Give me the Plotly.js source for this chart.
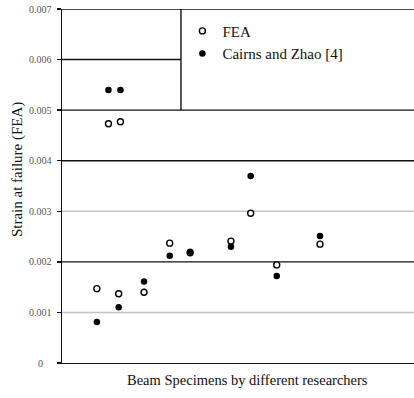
<!DOCTYPE html>
<html>
<head>
<meta charset="utf-8">
<script src="https://cdn.plot.ly/plotly-3.0.1.min.js"></script>
<style>html,body{margin:0;padding:0;background:#fff;}#chart{width:414px;height:398px;}</style>
</head>
<body>
<div id="chart"></div>
<script>
// Specimen positions along the (unlabelled) x axis
var specimenX = [9.9, 13.2, 16.1, 16.6, 23.3, 30.6, 36.4, 48.0, 53.6, 61.0, 73.3];
// Strain at failure
var feaStrain    = [0.00147, 0.00473, 0.00137, 0.00477, 0.00140, 0.00237, 0.00218, 0.00241, 0.00296, 0.00194, 0.00235];
var cairnsStrain = [0.00081, 0.00540, 0.00110, 0.00540, 0.00161, 0.00212, 0.00220, 0.00230, 0.00370, 0.00172, 0.00251];
var seriesNames = ['FEA', 'Cairns and Zhao [4]'];
var yTickVals = [0, 0.001, 0.002, 0.003, 0.004, 0.005, 0.006, 0.007];
var yTickText = ['0', '0.001', '0.002', '0.003', '0.004', '0.005', '0.006', '0.007'];
var darkGridVals = [0.002, 0.004, 0.005, 0.007];
var lightGridVals = [0.001, 0.003];
var xTitle = 'Beam Specimens by different researchers';
var yTitle = 'Strain at failure (FEA)';

var serif = '"Liberation Serif", "Times New Roman", serif';

var traces = [
  {x: specimenX, y: feaStrain, name: seriesNames[0], type: 'scatter', mode: 'markers',
   marker: {symbol: 'circle', size: 6, color: '#fff', line: {color: '#000', width: 1.4}}},
  {x: specimenX, y: cairnsStrain, name: seriesNames[1], type: 'scatter', mode: 'markers',
   marker: {symbol: 'circle', size: 6.5, color: '#000', line: {color: '#000', width: 0}}}
];

var legendLeft = 0.338;
var shapes = [];
lightGridVals.forEach(function (v) {
  shapes.push({type: 'line', xref: 'paper', yref: 'y', x0: 0, x1: 1, y0: v, y1: v,
    line: {color: '#c4c4c4', width: 1.6}, layer: 'below'});
});
darkGridVals.forEach(function (v) {
  shapes.push({type: 'line', xref: 'paper', yref: 'y', x0: 0, x1: 1, y0: v, y1: v,
    line: {color: '#111', width: 1.4}, layer: 'below'});
});
shapes.push({type: 'line', xref: 'paper', yref: 'y', x0: 0, x1: legendLeft, y0: 0.006, y1: 0.006,
  line: {color: '#111', width: 1.4}, layer: 'below'});
shapes.push({type: 'line', xref: 'paper', yref: 'y', x0: legendLeft, x1: legendLeft, y0: 0.005, y1: 0.007,
  line: {color: '#111', width: 1.4}, layer: 'below'});

var annotations = yTickVals.map(function (v, i) {
  return {xref: 'paper', yref: 'y', x: -0.0625, y: v, text: yTickText[i], showarrow: false,
    xanchor: 'center', yanchor: 'middle', font: {family: serif, size: 10, color: '#555'}};
});
annotations.push({xref: 'paper', yref: 'paper', x: -0.1278, y: 0.545, text: yTitle, showarrow: false,
  textangle: -90, xanchor: 'center', yanchor: 'middle', font: {family: serif, size: 15, color: '#111'}});
annotations.push({xref: 'paper', yref: 'paper', x: 0.526, y: -0.048, text: xTitle, showarrow: false,
  xanchor: 'center', yanchor: 'middle', font: {family: serif, size: 14.5, color: '#111'}});

var layout = {
  width: 414, height: 398,
  margin: {l: 62, r: 0, t: 9, b: 35, pad: 0},
  paper_bgcolor: '#fff', plot_bgcolor: '#fff',
  showlegend: true,
  legend: {x: 0.342, y: 0.984, xanchor: 'left', yanchor: 'top', bgcolor: 'rgba(0,0,0,0)',
    borderwidth: 0, font: {family: serif, size: 15, color: '#111'}},
  xaxis: {range: [0, 100], showgrid: false, zeroline: false, showticklabels: false,
    showline: true, linecolor: '#111', linewidth: 1.4, ticks: ''},
  yaxis: {range: [0, 0.007], tickvals: yTickVals, showticklabels: false, showgrid: false,
    zeroline: false, showline: true, linecolor: '#111',
    linewidth: 1.5, ticks: 'outside', ticklen: 4, tickwidth: 1.3, tickcolor: '#111'},
  shapes: shapes,
  annotations: annotations
};

Plotly.newPlot('chart', traces, layout, {displayModeBar: false, staticPlot: true});
</script>
</body>
</html>
